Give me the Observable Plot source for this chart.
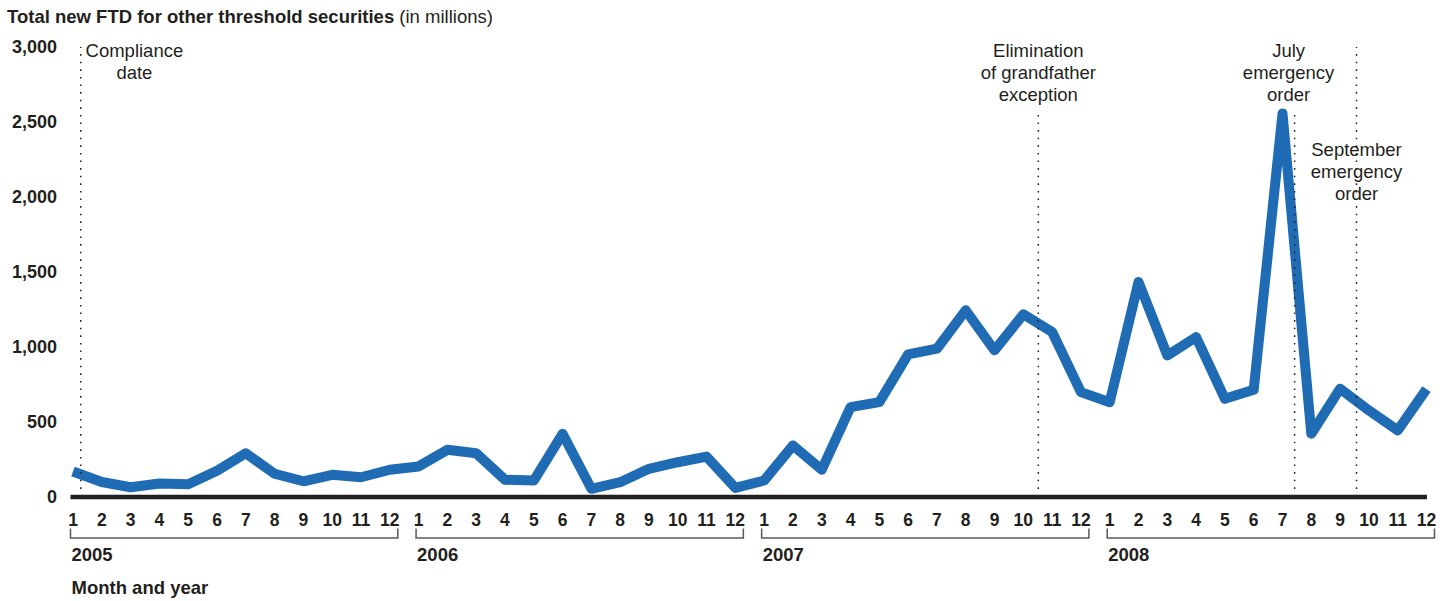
<!DOCTYPE html>
<html>
<head>
<meta charset="utf-8">
<script src="https://cdn.jsdelivr.net/npm/d3@7"></script>
<script src="https://cdn.jsdelivr.net/npm/@observablehq/plot@0.6"></script>
<style>
  body { margin: 0; background: #fff; }
  #wrap { position: relative; width: 1451px; height: 601px; font-family: "Liberation Sans", Arial, Helvetica, sans-serif; color: #231f20; }
  #wrap svg { display: block; }
  #title { position: absolute; left: 7px; top: 6px; font-size: 18.5px; line-height: 22px; white-space: nowrap; }
</style>
</head>
<body>
<div id="wrap">
  <div id="title"><b>Total new FTD for other threshold securities</b> (in millions)</div>
</div>
<script>
// ---- data (values in millions) ----
const years = ["2005", "2006", "2007", "2008"];
const monthLabels = [1, 2, 3, 4, 5, 6, 7, 8, 9, 10, 11, 12];
const ftd2005 = [170, 100, 65, 90, 85, 175, 292, 155, 105, 148, 132, 182];
const ftd2006 = [204, 315, 292, 115, 110, 422, 55, 99, 188, 232, 270, 61];
const ftd2007 = [110, 344, 182, 600, 633, 952, 990, 1246, 979, 1219, 1101, 700];
const ftd2008 = [633, 1435, 945, 1067, 655, 716, 2560, 422, 723, 578, 444, 720];
const yTicks = [0, 500, 1000, 1500, 2000, 2500, 3000];

// events: position in months since Jan 2005, top of dotted rule (millions)
const eventLabels = ["Compliance\ndate", "Elimination\nof grandfather\nexception", "July\nemergency\norder", "September\nemergency\norder"];
const eventMonths = [0.27, 33.52, 42.42, 44.57];
const eventRuleTops = [3000, 2580, 2580, 3000];

// ---- build tables ----
const allValues = [...ftd2005, ...ftd2006, ...ftd2007, ...ftd2008];
const months = d3.range(allValues.length);
const series = months.map(i => ({m: i, v: allValues[i]}));
const events = eventLabels.map((label, i) => ({label, at: eventMonths[i], top: eventRuleTops[i]}));

const INK = "#231f20";
const FONT = '"Liberation Sans", Arial, Helvetica, sans-serif';

// year brackets under the month labels
const brackets = (index, scales, values, dims) => {
  const g = d3.create("svg:g")
    .attr("fill", "none")
    .attr("stroke", "#58595b")
    .attr("stroke-width", 1.5);
  const y0 = dims.height - dims.marginBottom;
  years.forEach((yr, k) => {
    const a = scales.x(k * 12) - 2;
    const b = scales.x(k * 12 + 11) + 8.5;
    g.append("path").attr("d", `M${a},${y0 + 32}V${y0 + 41.5}H${b}V${y0 + 32}`);
  });
  return g.node();
};

const annot = (i, dx, dy, extra = {}) =>
  Plot.text([events[i]], {
    x: "at", text: "label", frameAnchor: "top", lineAnchor: "top",
    dx, dy, fontSize: 18.5, lineHeight: 1.19, fill: INK, ...extra
  });

const chart = Plot.plot({
  width: 1451,
  height: 601,
  marginLeft: 72.5,
  marginRight: 25,
  marginTop: 47,
  marginBottom: 104.5,
  x: {domain: [0, 47]},
  y: {domain: [0, 3000]},
  style: {fontFamily: FONT, fontSize: "18px", color: INK, background: "transparent", overflow: "visible"},
  marks: [
    Plot.axisY({ticks: yTicks, tickFormat: d3.format(","), tickSize: 0, tickPadding: 16,
      fontWeight: "bold", fontSize: 18, label: null}),
    Plot.axisX({ticks: months, tickFormat: m => monthLabels[m % 12], tickSize: 0, tickPadding: 17,
      fontWeight: "bold", fontSize: 17.5, label: null}),
    Plot.lineY(series, {x: "m", y: "v", stroke: "#1f6bb4", strokeWidth: 10,
      strokeLinejoin: "round", strokeLinecap: "butt"}),
    Plot.ruleY([0], {stroke: INK, strokeWidth: 4.7, insetLeft: -2, insetRight: -1}),
    annot(3, 0, 93, {stroke: "white", strokeWidth: 6, fill: "white"}),
    Plot.ruleX(events, {x: "at", y1: 0, y2: "top", stroke: INK, strokeWidth: 1.5, strokeDasharray: "1.6,6"}),
    annot(3, 0, 93),
    annot(0, 53.6, -6),
    annot(1, 0, -6),
    annot(2, -6, -6),
    brackets,
    Plot.text(years, {x: (d, i) => i * 12, frameAnchor: "bottom", dy: 63.5, dx: -1.5,
      textAnchor: "start", fontWeight: "bold", fontSize: 18.5, fill: INK}),
    Plot.text(["Month and year"], {frameAnchor: "bottom-left", dy: 96.5, dx: -1.5,
      textAnchor: "start", fontWeight: "bold", fontSize: 18.5, fill: INK})
  ]
});

document.getElementById("wrap").appendChild(chart);
</script>
</body>
</html>
